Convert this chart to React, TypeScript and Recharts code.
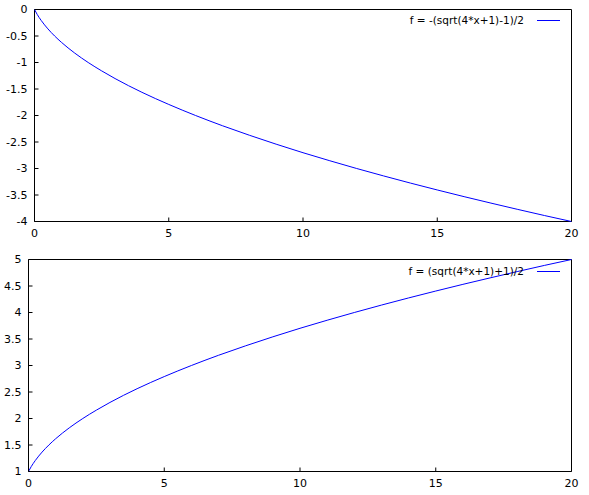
import React from 'react';
import { LineChart, Line, XAxis, YAxis, ReferenceArea, Legend } from 'recharts';

const xValues = [0, 0.1, 0.25, 0.5, 0.75, 1, 1.5, 2, 2.5, 3, 4, 5, 6, 7, 8, 9, 10, 11, 12, 13, 14, 15, 16, 17, 18, 19, 20];
const negValues = [0, -0.092, -0.207, -0.366, -0.5, -0.618, -0.823, -1, -1.158, -1.303, -1.562, -1.791, -2, -2.193, -2.372, -2.541, -2.702, -2.854, -3, -3.14, -3.275, -3.405, -3.531, -3.653, -3.772, -3.888, -4];
const posValues = [1, 1.092, 1.207, 1.366, 1.5, 1.618, 1.823, 2, 2.158, 2.303, 2.562, 2.791, 3, 3.193, 3.372, 3.541, 3.702, 3.854, 4, 4.14, 4.275, 4.405, 4.531, 4.653, 4.772, 4.888, 5];

const xTicks = [0, 5, 10, 15, 20];
const negTicks = [-4, -3.5, -3, -2.5, -2, -1.5, -1, -0.5, 0];
const posTicks = [1, 1.5, 2, 2.5, 3, 3.5, 4, 4.5, 5];

const negName = 'f = -(sqrt(4*x+1)-1)/2';
const posName = 'f = (sqrt(4*x+1)+1)/2';

const negData = xValues.map((x, i) => ({ x, y: negValues[i] }));
const posData = xValues.map((x, i) => ({ x, y: posValues[i] }));

const FONT = '"DejaVu Sans", sans-serif';
const BLUE = '#0000ff';

const YTick = (props: any) => {
  const { x, y, payload } = props;
  return (
    <g>
      <line x1={x + 7} x2={x + 11} y1={y} y2={y} stroke="#000" strokeWidth={1} />
      <text x={x} y={y} textAnchor="end" dominantBaseline="central" fontFamily={FONT} fontSize={11} fill="#000">
        {String(payload.value)}
      </text>
    </g>
  );
};

const XTick = (props: any) => {
  const { x, y, payload } = props;
  return (
    <g>
      <line x1={x} x2={x} y1={y - 12} y2={y - 16} stroke="#000" strokeWidth={1} />
      <text x={x} y={y} textAnchor="middle" dominantBaseline="central" fontFamily={FONT} fontSize={11} fill="#000">
        {String(payload.value)}
      </text>
    </g>
  );
};

const makeLegend = (lineTop: number) => (props: any) => {
  const item = props.payload && props.payload[0];
  const label = item ? item.value : '';
  return (
    <div style={{ position: 'relative', width: 589, height: 30 }}>
      <span
        style={{
          position: 'absolute',
          right: 65,
          top: lineTop - 7.5,
          fontFamily: FONT,
          fontSize: 10.5,
          lineHeight: '14px',
          whiteSpace: 'nowrap',
          color: '#000',
        }}
      >
        {label}
      </span>
      <div style={{ position: 'absolute', left: 537, top: lineTop, width: 23, height: 1, background: BLUE }} />
    </div>
  );
};

export default function App() {
  return (
    <div style={{ position: 'absolute', left: 0, top: 0, width: 589, height: 495, background: '#fff' }}>
      <div style={{ position: 'absolute', left: 0, top: 0 }}>
        <LineChart width={589} height={247} data={negData} margin={{ top: 9.5, right: 17.5, bottom: 5.5, left: 0.5 }}>
          <XAxis
            dataKey="x"
            type="number"
            domain={[0, 20]}
            ticks={xTicks}
            height={20}
            axisLine={false}
            tickLine={false}
            tickSize={0}
            tickMargin={12}
            tick={<XTick />}
            interval={0}
          />
          <YAxis
            type="number"
            domain={[-4, 0]}
            ticks={negTicks}
            width={34}
            axisLine={false}
            tickLine={false}
            tickSize={0}
            tickMargin={7}
            tick={<YTick />}
            interval={0}
          />
          <ReferenceArea x1={0} x2={20} y1={-4} y2={0} fill="none" stroke="#000" strokeWidth={1} />
          <Legend
            layout="horizontal"
            verticalAlign="middle"
            align="center"
            wrapperStyle={{ top: 0, left: 0, width: 589, height: 30 }}
            content={makeLegend(20)}
          />
          <Line
            name={negName}
            dataKey="y"
            type="monotone"
            stroke={BLUE}
            strokeWidth={1}
            dot={false}
            activeDot={false}
            isAnimationActive={false}
          />
        </LineChart>
      </div>
      <div style={{ position: 'absolute', left: 0, top: 250 }}>
        <LineChart width={589} height={245} data={posData} margin={{ top: 9.5, right: 17.5, bottom: 3.5, left: 0.5 }}>
          <XAxis
            dataKey="x"
            type="number"
            domain={[0, 20]}
            ticks={xTicks}
            height={20}
            axisLine={false}
            tickLine={false}
            tickSize={0}
            tickMargin={12}
            tick={<XTick />}
            interval={0}
          />
          <YAxis
            type="number"
            domain={[1, 5]}
            ticks={posTicks}
            width={28}
            axisLine={false}
            tickLine={false}
            tickSize={0}
            tickMargin={7}
            tick={<YTick />}
            interval={0}
          />
          <ReferenceArea x1={0} x2={20} y1={1} y2={5} fill="none" stroke="#000" strokeWidth={1} />
          <Legend
            layout="horizontal"
            verticalAlign="middle"
            align="center"
            wrapperStyle={{ top: 0, left: 0, width: 589, height: 30 }}
            content={makeLegend(21)}
          />
          <Line
            name={posName}
            dataKey="y"
            type="monotone"
            stroke={BLUE}
            strokeWidth={1}
            dot={false}
            activeDot={false}
            isAnimationActive={false}
          />
        </LineChart>
      </div>
    </div>
  );
}
